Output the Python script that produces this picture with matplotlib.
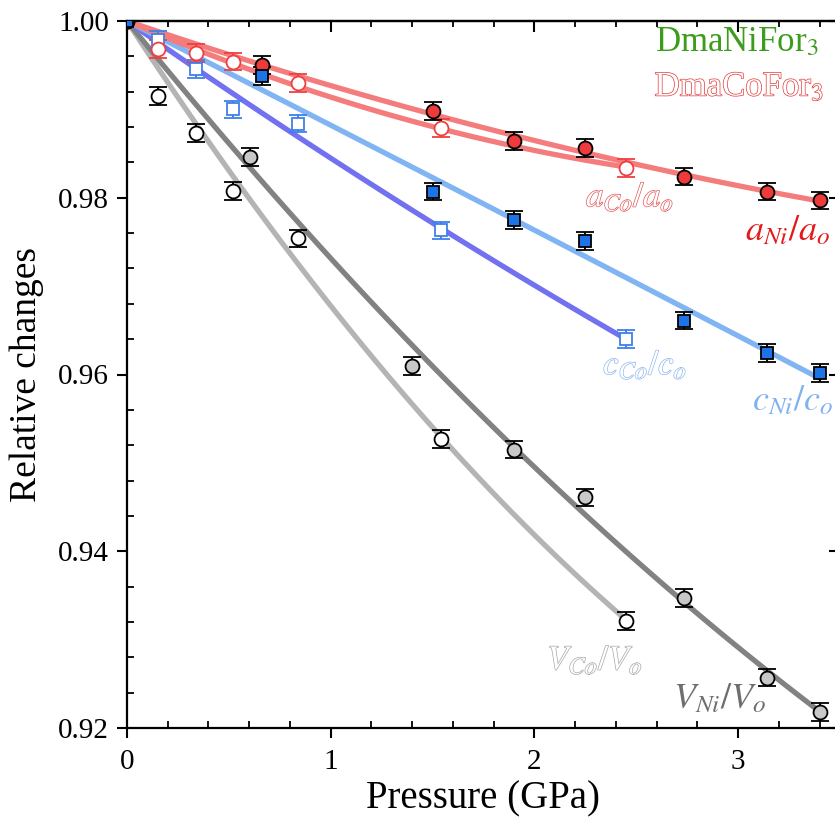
import matplotlib
matplotlib.use('Agg')
import matplotlib.pyplot as plt
import matplotlib.patheffects as pe
from matplotlib.ticker import MultipleLocator
import numpy as np

plt.rcParams['font.family'] = ['Liberation Serif', 'DejaVu Serif']
plt.rcParams['mathtext.fontset'] = 'stix'

# DmaNiFor3 (filled markers)
p_ni = [0, 0.663, 1.502, 1.900, 2.248, 2.734, 3.142, 3.402]
a_ni = [1.0, 0.9950, 0.9898, 0.9864, 0.9856, 0.9824, 0.9807, 0.9797]
c_ni = [1.0, 0.9938, 0.9807, 0.9775, 0.9751, 0.9661, 0.9624, 0.9602]
v_ni = [1.0, 0.9846, 0.9610, 0.9515, 0.9461, 0.9347, 0.9257, 0.9218]
p_ni_v = [0, 0.604, 1.399, 1.900, 2.248, 2.734, 3.142, 3.402]
err_ni = [0, 0.001, 0.001, 0.001, 0.001, 0.001, 0.001, 0.001]

# DmaCoFor3 (open markers)
p_co = [0, 0.152, 0.339, 0.520, 0.840, 1.541, 2.450]
a_co = [1.0, 0.9968, 0.9964, 0.9954, 0.9930, 0.9879, 0.9834]
c_co = [1.0, 0.9979, 0.9946, 0.9900, 0.9884, 0.9763, 0.9640]
v_co = [1.0, 0.9915, 0.9873, 0.9808, 0.9754, 0.9527, 0.9321]
err_co = [0, 0.001, 0.001, 0.001, 0.001, 0.001, 0.001]


def fit_curve(p, v):
    # quadratic through (0, 1)
    p = np.asarray(p)
    v = np.asarray(v) - 1.0
    A = np.vstack([p, p ** 2]).T
    b, c = np.linalg.lstsq(A, v, rcond=None)[0]
    pp = np.linspace(0, p.max(), 100)
    return pp, 1 + b * pp + c * pp ** 2


fig = plt.figure(figsize=(8.35, 8.27), dpi=100)
ax = fig.add_axes([127 / 835, 1 - 728 / 827, 713 / 835, 707 / 827])

# fitted curves
lw = 3.8
for p, v, col in [(p_co, v_co, '#b4b4b4'), (p_ni_v, v_ni, '#828282'),
                  (p_co, c_co, '#7272f0'), (p_ni, c_ni, '#80b4f2'),
                  (p_co, a_co, '#f47c7c'), (p_ni, a_ni, '#f47c7c')]:
    xx, yy = fit_curve(p, v)
    ax.plot(xx, yy, color=col, lw=lw, solid_capstyle='butt', zorder=2)

eb = dict(capsize=6.5, elinewidth=1.4, capthick=1.4, mew=1.3, zorder=4)

# Co data
ax.errorbar(p_co, v_co, yerr=err_co, fmt='o', ms=10, mfc='white', mec='black',
            ecolor='black', **eb)
ax.errorbar(p_co, c_co, yerr=err_co, fmt='s', ms=9, mfc='white', mec='#3f80ea',
            ecolor='#3f80ea', **eb)
ax.errorbar(p_co, a_co, yerr=err_co, fmt='o', ms=10, mfc='white', mec='#ef4040',
            ecolor='#ef4040', **eb)

# Ni data
ax.errorbar(p_ni_v, v_ni, yerr=err_ni, fmt='o', ms=10, mfc='#c8c8c8', mec='black',
            ecolor='black', **eb)
ax.errorbar(p_ni, a_ni, yerr=err_ni, fmt='o', ms=10, mfc='#ee3a3a', mec='black',
            ecolor='black', **eb)
ax.errorbar(p_ni, c_ni, yerr=err_ni, fmt='s', ms=9, mfc='#1c74e6', mec='black',
            ecolor='black', **eb)

ax.set_xlim(0, 3.5)
ax.set_ylim(0.92, 1.0)
ax.set_xticks([0, 1, 2, 3])
ax.set_yticks([0.92, 0.94, 0.96, 0.98, 1.00])
ax.set_yticklabels(['0.92', '0.94', '0.96', '0.98', '1.00'])
ax.xaxis.set_minor_locator(MultipleLocator(0.2))
ax.yaxis.set_minor_locator(MultipleLocator(0.004))
ax.tick_params(which='major', direction='out', length=7, width=1.5,
               labelsize=21, pad=6)
ax.tick_params(which='minor', direction='in', length=5, width=1.3)
ax.tick_params(axis='x', which='major', pad=8)
for s in ax.spines.values():
    s.set_linewidth(1.6)

secx = ax.secondary_xaxis('top')
secx.set_xticks([0, 1, 2, 3])
secx.xaxis.set_minor_locator(MultipleLocator(0.2))
secx.tick_params(which='major', direction='in', length=8, width=1.5, labeltop=False)
secx.tick_params(which='minor', direction='in', length=4, width=1.3)
secx.spines['top'].set_linewidth(1.6)

secy = ax.secondary_yaxis('right')
secy.set_yticks([0.92, 0.94, 0.96, 0.98, 1.00])
secy.tick_params(which='major', direction='in', length=8, width=1.5, labelright=False)

ax.set_xlabel('Pressure (GPa)', fontsize=28, labelpad=4)
ax.set_ylabel('Relative changes', fontsize=27, labelpad=10)

# compound names
ax.text(2.59, 0.9976, 'DmaNiFor$_3$', color='#3c9c1c', fontsize=25,
        ha='left', va='center')
ax.text(2.59, 0.9925, 'DmaCoFor$_3$', color='white', fontsize=25,
        ha='left', va='center',
        path_effects=[pe.withStroke(linewidth=1.0, foreground='#e23a3a')])


def outline(c):
    return [pe.withStroke(linewidth=1.0, foreground=c)]


# series labels
ax.text(2.469, 0.9800, r'$a_{Co}/a_o$', color='white', fontsize=25,
        ha='center', va='center', path_effects=outline('#e45a5a'))
ax.text(3.245, 0.9762, r'$a_{Ni}/a_o$', color='#e31a1c', fontsize=26,
        ha='center', va='center')
ax.text(2.543, 0.9610, r'$c_{Co}/c_o$', color='white', fontsize=25,
        ha='center', va='center', path_effects=outline('#90b8f0'))
ax.text(3.27, 0.9569, r'$c_{Ni}/c_o$', color='#80b2f0', fontsize=26,
        ha='center', va='center')
ax.text(2.297, 0.9276, r'$V_{Co}/V_o$', color='white', fontsize=25,
        ha='center', va='center', path_effects=outline('#a8a8a8'))
ax.text(2.911, 0.9232, r'$V_{Ni}/V_o$', color='#6e6e6e', fontsize=26,
        ha='center', va='center')

fig.savefig('out.png', dpi=100)
